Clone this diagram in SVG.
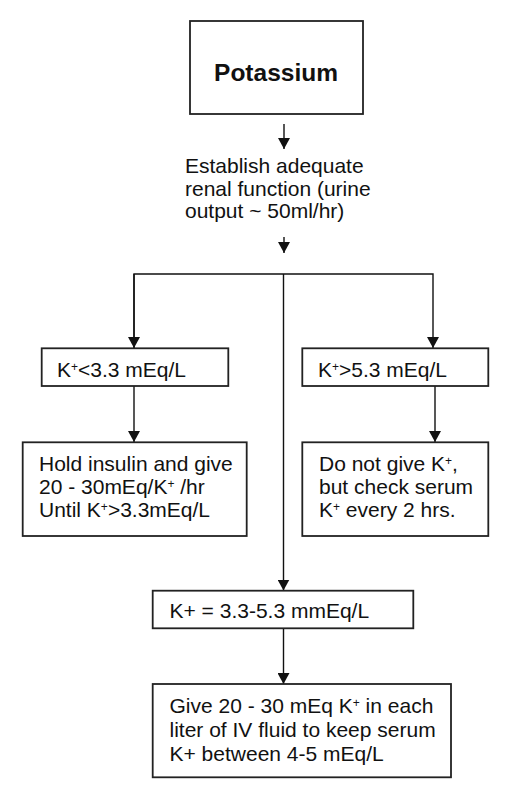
<svg xmlns="http://www.w3.org/2000/svg" width="514" height="800" viewBox="0 0 514 800">
<style>
.box{fill:#fff;stroke:#222;stroke-width:1.8}
.ln{fill:none;stroke:#111;stroke-width:1.4}
.t{font-family:"Liberation Sans",Arial,sans-serif;font-size:21px;fill:#111}
.sup{font-size:12px}
.title{font-family:"Liberation Sans",Arial,sans-serif;font-size:24.5px;font-weight:bold;fill:#111}
</style>
<defs>
<marker id="ah" markerWidth="11" markerHeight="12" refX="11" refY="6" orient="auto" markerUnits="userSpaceOnUse">
<path d="M0,0 L11,6 L0,12 Z" fill="#111"/>
</marker>
</defs>
<rect width="514" height="800" fill="#fff"/>
<g id="connectors">
<line class="ln" x1="284" y1="124" x2="284" y2="149" marker-end="url(#ah)"/>
<line class="ln" x1="284" y1="237" x2="284" y2="253" marker-end="url(#ah)"/>
<polyline class="ln" points="134,348 134,274 433,274 433,348" marker-end="url(#ah)"/>
<line class="ln" x1="134" y1="274" x2="134" y2="348" marker-end="url(#ah)"/>
<line class="ln" x1="283.5" y1="274" x2="283.5" y2="590.5" marker-end="url(#ah)"/>
<line class="ln" x1="134" y1="386" x2="134" y2="442" marker-end="url(#ah)"/>
<line class="ln" x1="435" y1="386" x2="435" y2="442" marker-end="url(#ah)"/>
<line class="ln" x1="283.5" y1="628" x2="283.5" y2="684" marker-end="url(#ah)"/>
</g>
<g id="potassium">
<rect class="box" x="190" y="21" width="173" height="93"/>
<text class="title" x="276" y="81" text-anchor="middle">Potassium</text>
</g>
<g id="establish">
<text class="t" x="185" y="173">Establish adequate</text>
<text class="t" x="185" y="195.5">renal function (urine</text>
<text class="t" x="185" y="218">output ~ 50ml/hr)</text>
</g>
<g id="low">
<rect class="box" x="41.7" y="348.3" width="186.6" height="37.7"/>
<text class="t" x="57" y="377">K<tspan class="sup" dy="-6">+</tspan><tspan dy="6">&lt;3.3 mEq/L</tspan></text>
</g>
<g id="high">
<rect class="box" x="302.3" y="348.3" width="186" height="37.7"/>
<text class="t" x="318" y="377">K<tspan class="sup" dy="-6">+</tspan><tspan dy="6">&gt;5.3 mEq/L</tspan></text>
</g>
<g id="low-action">
<rect class="box" x="22.7" y="442.3" width="224" height="93.7"/>
<text class="t" x="39" y="470.7">Hold insulin and give</text>
<text class="t" x="39" y="494">20 - 30mEq/K<tspan class="sup" dy="-6">+</tspan><tspan dy="6"> /hr</tspan></text>
<text class="t" x="39" y="517.3">Until K<tspan class="sup" dy="-6">+</tspan><tspan dy="6">&gt;3.3mEq/L</tspan></text>
</g>
<g id="high-action">
<rect class="box" x="302.3" y="442.3" width="186" height="93.7"/>
<text class="t" x="319" y="470.7">Do not give K<tspan class="sup" dy="-6">+</tspan><tspan dy="6">,</tspan></text>
<text class="t" x="319" y="494">but check serum</text>
<text class="t" x="319" y="517.3">K<tspan class="sup" dy="-6">+</tspan><tspan dy="6"> every 2 hrs.</tspan></text>
</g>
<g id="normal">
<rect class="box" x="152.7" y="590.7" width="260.6" height="37.6"/>
<text class="t" x="169.5" y="617.5">K+ = 3.3-5.3 mmEq/L</text>
</g>
<g id="normal-action">
<rect class="box" x="152.7" y="684" width="298.3" height="93.3"/>
<text class="t" x="169.5" y="712.7">Give 20 - 30 mEq K<tspan class="sup" dy="-6">+</tspan><tspan dy="6"> in each</tspan></text>
<text class="t" x="169.5" y="736.5">liter of IV fluid to keep serum</text>
<text class="t" x="169.5" y="760.5">K+ between 4-5 mEq/L</text>
</g>
</svg>
